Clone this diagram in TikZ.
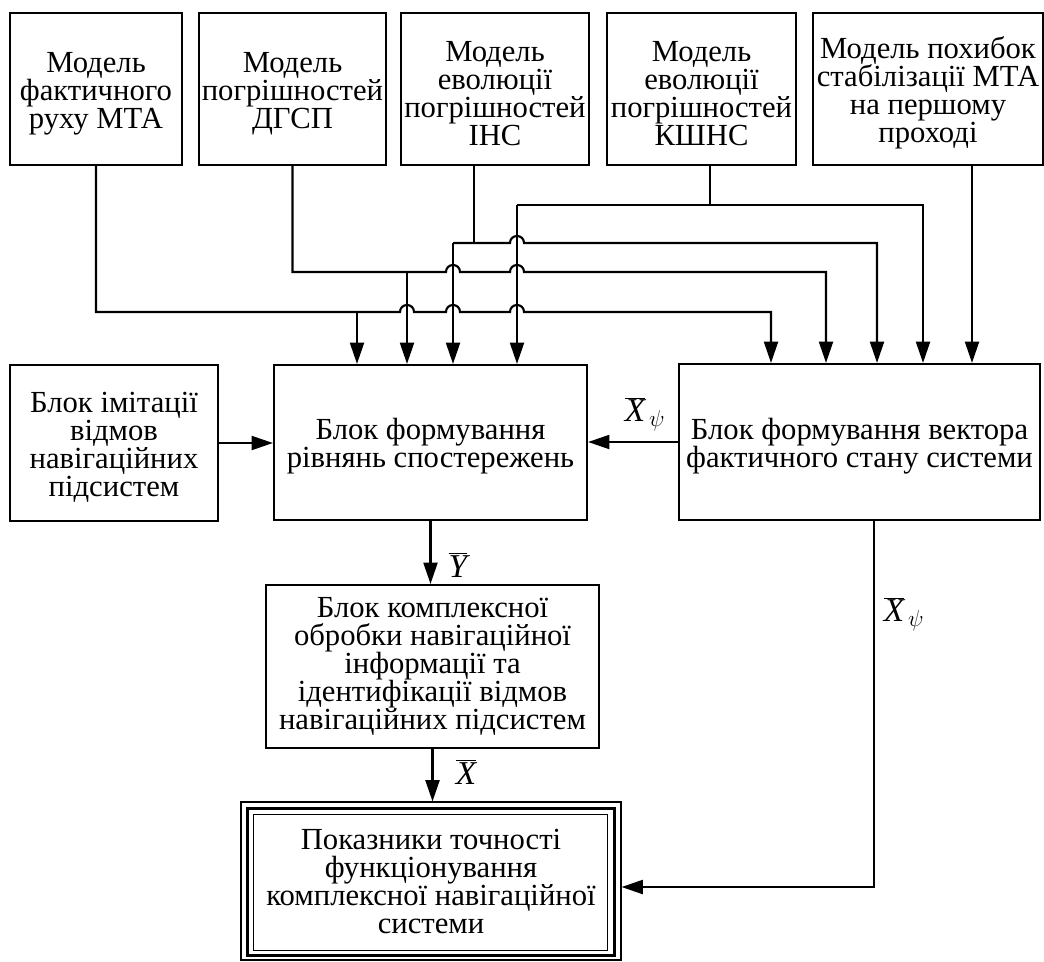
\documentclass[tikz,border=0pt]{standalone}
\usepackage{fontspec}
\setmainfont{Liberation Serif}
\usetikzlibrary{arrows.meta,calc}
\newcommand\bmp[2]{-- (#1-7,#2) .. controls (#1-7,#2-9.3) and (#1+7,#2-9.3) .. (#1+7,#2)}
\newcommand\tpst{\rule{0pt}{22pt}}
\begin{document}
\begin{tikzpicture}[x=0.75pt,y=-0.75pt,
  box/.style={draw,line width=1.6pt,align=center,inner sep=0pt,font=\fontsize{23}{21}\selectfont},
  ln/.style={line width=1.6pt},
  arr/.style={ln,-{Triangle[width=10.5pt,length=16pt]}},
  lbl/.style={inner sep=0pt,font=\fontsize{25}{25}\selectfont}]
\useasboundingbox (0,0) rectangle (1044,961);
% top row
\node[box,minimum width=129pt,minimum height=114pt] (b1) at (96,89) {\tpst Модель\\фактичного\\руху МТА};
\node[box,minimum width=140.25pt,minimum height=114pt] (b2) at (292.5,89) {\tpst Модель\\погрішностей\\ДГСП};
\node[box,minimum width=141pt,minimum height=114pt] (b3) at (495,89) {\tpst Модель\\еволюції\\погрішностей\\ІНС};
\node[box,minimum width=141.75pt,minimum height=114pt] (b4) at (701.5,89) {\tpst Модель\\еволюції\\погрішностей\\КШНС};
\node[box,minimum width=172.5pt,minimum height=114pt] (b5) at (928,89) {\tpst Модель похибок\\стабілізації МТА\\на першому\\проході};
% middle row
\node[box,minimum width=156pt,minimum height=117pt] (L) at (114,443) {\tpst Блок імітації\\відмов\\навігаційних\\підсистем};
\node[box,minimum width=234.75pt,minimum height=116.25pt] (M) at (430.5,442.5) {\tpst Блок формування\\рівнянь спостережень};
\node[box,minimum width=270.75pt,minimum height=117pt] (R) at (859.5,442) {\tpst Блок формування вектора\\фактичного стану системи};
\node[box,minimum width=249.75pt,minimum height=122.25pt] (K) at (432.5,666.5) {Блок комплексної\\обробки навігаційної\\інформації та\\ідентифікації відмов\\навігаційних підсистем};
% bottom
\node[draw,line width=0.8pt,minimum width=285pt,minimum height=118.5pt,align=center,inner sep=0pt,font=\fontsize{23}{21}\selectfont] (P) at (431,881) {Показники точності\\функціонування\\комплексної навігаційної\\системи};
\draw[line width=2.2pt] ([shift={(7,7)}]P.north west) rectangle ([shift={(-7,-5)}]P.south east);
\draw[line width=0.8pt] ([shift={(13,13)}]P.north west) rectangle ([shift={(-14,-10)}]P.south east);
% x positions
\coordinate (xa) at (357,0);
\coordinate (xb) at (407,0);
\coordinate (xc) at (453,0);
\coordinate (xd) at (517,0);
\coordinate (xe) at (771,0);
\coordinate (xf) at (826,0);
\coordinate (xg) at (877,0);
\coordinate (xh) at (923,0);
\coordinate (x3) at (474,0);
\coordinate (x4) at (710,0);
\coordinate (x5) at (972,0);
\coordinate (xr) at (874,0);
\coordinate (yr) at (0,887);
% bus from b1
\draw[arr] (b1.south) -- (96,312) \bmp{407}{312} \bmp{453}{312} \bmp{517}{312} -- (771,312) -- (xe |- R.north);
\draw[arr] (357,312) -- (xa |- M.north);
% bus from b2
\draw[arr] (b2.south) -- (292.5,272) \bmp{453}{272} \bmp{517}{272} -- (826,272) -- (xf |- R.north);
\draw[arr] (407,272) -- (xb |- M.north);
% bus from b3
\draw[ln] (x3 |- b3.south) -- (474,243);
\draw[arr] (453,243) \bmp{517}{243} -- (877,243) -- (xg |- R.north);
\draw[arr] (453,243) -- (xc |- M.north);
% bus from b4
\draw[ln] (x4 |- b4.south) -- (710,205);
\draw[arr] (517,205) -- (923,205) -- (xh |- R.north);
\draw[arr] (517,205) -- (xd |- M.north);
% b5
\draw[arr] (x5 |- b5.south) -- (x5 |- R.north);
% middle connections
\draw[arr] (L.east) -- (L.east -| M.west);
\draw[arr] (R.west) -- (R.west -| M.east);
\draw[arr] (M.south) -- (M.south |- K.north);
\draw[arr] (K.south) -- (K.south |- P.north);
\draw[arr] (xr |- R.south) |- (P.east |- yr);
% labels
\node[lbl] (l1) at (645,414) {$\overline{\textit{X}}_{\,\psi}$};
\node[lbl] (l2) at (458,565) {$\overline{\textit{Y}}$};
\node[lbl] (l3) at (466,772) {$\overline{\textit{X}}$};
\node[lbl] (l4) at (904,614) {$\overline{\textit{X}}_{\,\psi}$};
\end{tikzpicture}
\end{document}
